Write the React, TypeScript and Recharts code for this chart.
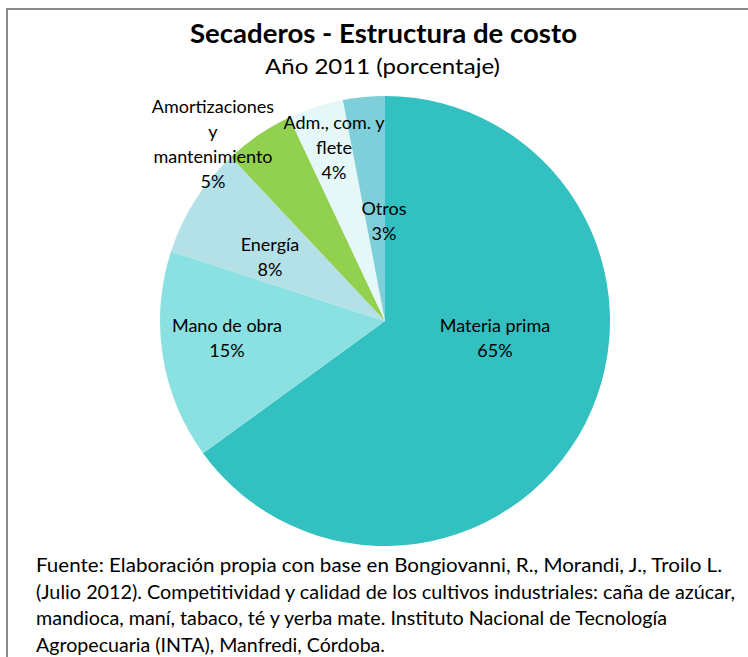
import React from 'react';
import { PieChart, Pie, Cell } from 'recharts';

const CATEGORIES = ['Materia prima', 'Mano de obra', 'Energía', 'Amortizaciones y mantenimiento', 'Adm., com. y flete', 'Otros'];
const LABEL_LINES = [['Materia prima'], ['Mano de obra'], ['Energía'], ['Amortizaciones', 'y', 'mantenimiento'], ['Adm., com. y', 'flete'], ['Otros']];
const VALUES = [65, 15, 8, 5, 4, 3];
const COLORS = ['#32C0C0', '#8BE1E1', '#B4E1E7', '#92D050', '#E6F7F8', '#7ECFD9'];

const TITLE = 'Secaderos - Estructura de costo';
const SUBTITLE = 'Año 2011 (porcentaje)';
const SOURCE_LINES = [
  'Fuente:  Elaboración propia con base en Bongiovanni, R., Morandi, J., Troilo L.',
  '(Julio 2012). Competitividad y calidad de los cultivos industriales: caña de azúcar,',
  'mandioca, maní, tabaco, té y yerba mate. Instituto Nacional de Tecnología',
  'Agropecuaria (INTA), Manfredi, Córdoba.',
];

// label block centers, relative to pie center (Excel "best fit" placement)
const LABEL_OFFSETS = [[110, 16], [-158, 16], [-115, -65], [-172, -178], [-51, -174], [-1, -101]];
const SOURCE_WIDTHS = [686, 699, 631, 349];

const FONT = 'Lato, "Open Sans", sans-serif';
const data = CATEGORIES.map((name, i) => ({ name, value: VALUES[i] }));

const renderLabel = (props: any) => {
  const { cx, cy, index, percent } = props;
  const lines = [...LABEL_LINES[index], `${Math.round(percent * 100)}%`];
  const lh = 25;
  const x = cx + LABEL_OFFSETS[index][0];
  const y0 = cy + LABEL_OFFSETS[index][1] - ((lines.length - 1) * lh) / 2;
  return (
    <text x={x} y={y0} textAnchor="middle" dominantBaseline="central" fontSize={18} fontFamily={FONT} fill="#000">
      {lines.map((l, i) => (
        <tspan key={i} x={x} y={y0 + i * lh}>{l}</tspan>
      ))}
    </text>
  );
};

export default function App() {
  return (
    <div style={{ position: 'absolute', left: 0, top: 0, width: 748, height: 657, background: '#fff', overflow: 'hidden' }}>
      <div style={{ position: 'absolute', left: 6, top: 8, width: 760, height: 680, borderTop: '2px solid #8a8a8a', borderLeft: '2px solid #8a8a8a' }} />
      <PieChart width={748} height={657} style={{ position: 'absolute', left: 0, top: 0 }}>
        <Pie
          data={data}
          dataKey="value"
          nameKey="name"
          cx={380}
          cy={316}
          outerRadius={225}
          startAngle={90}
          endAngle={-270}
          stroke="none"
          label={renderLabel}
          labelLine={false}
          isAnimationActive={false}
        >
          {data.map((d, i) => (
            <Cell key={d.name} fill={COLORS[i]} />
          ))}
        </Pie>
      </PieChart>
      <svg width={748} height={657} style={{ position: 'absolute', left: 0, top: 0, pointerEvents: 'none' }}>
        <text x={190} y={32} dominantBaseline="central" fontSize={27} fontWeight={700} fontFamily={FONT}
          textLength={387} lengthAdjust="spacingAndGlyphs">{TITLE}</text>
        <text x={265} y={65} dominantBaseline="central" fontSize={22} fontFamily={FONT}
          textLength={235} lengthAdjust="spacingAndGlyphs">{SUBTITLE}</text>
        {SOURCE_LINES.map((l, i) => (
          <text key={i} x={36} y={565 + i * 26.5} dominantBaseline="central" fontSize={18.5} fontFamily={FONT}
            textLength={SOURCE_WIDTHS[i]} lengthAdjust="spacingAndGlyphs">{l}</text>
        ))}
      </svg>
    </div>
  );
}
